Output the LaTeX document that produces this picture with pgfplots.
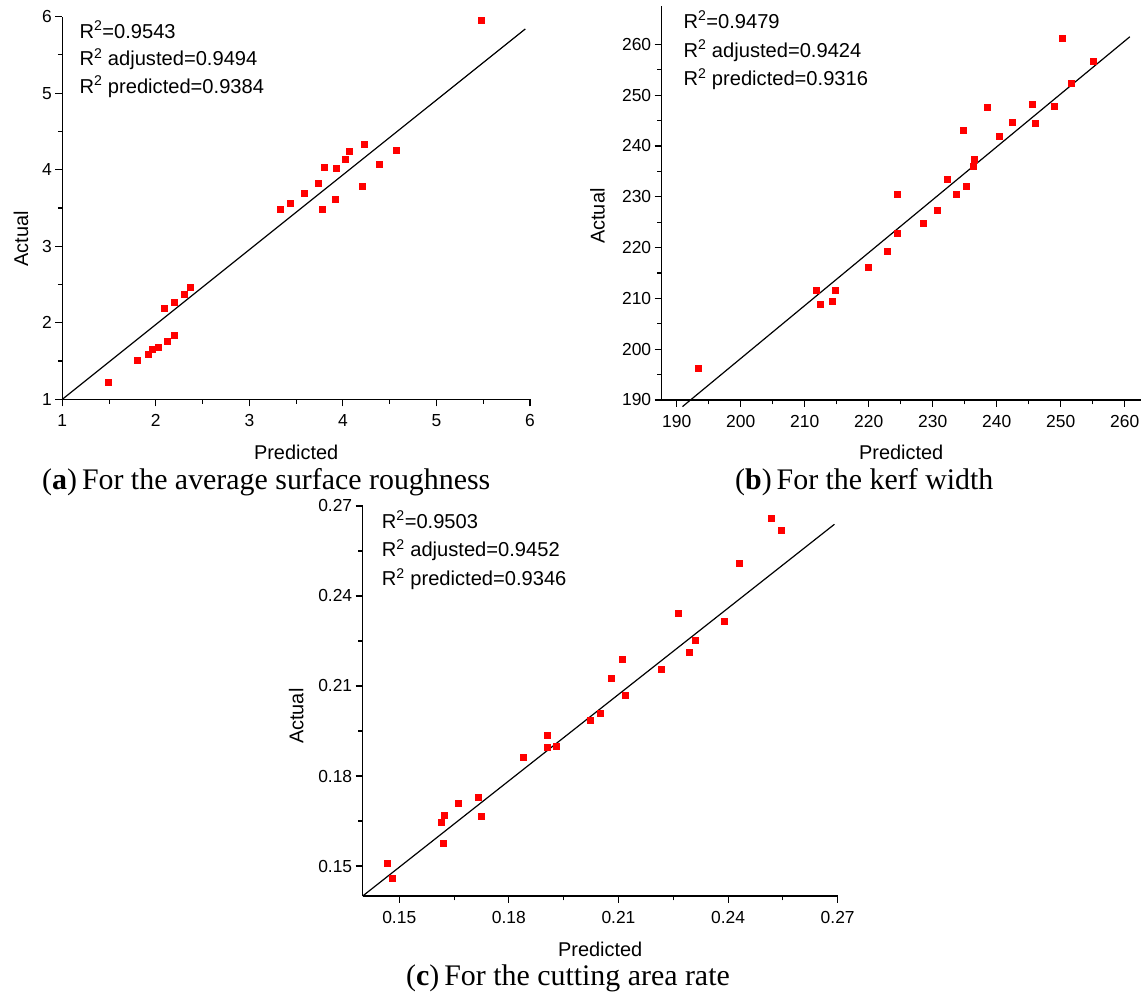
\documentclass[border=0pt]{standalone}
\usepackage{fontspec}
\setmainfont{Liberation Serif}
\setsansfont{Liberation Sans}
\usepackage{pgfplots}
\pgfplotsset{compat=1.18}
\pgfplotsset{
  myax/.style={
    scale only axis, clip=false, enlargelimits=false,
    anchor=south west,
    axis x line=bottom, axis y line=left,
    axis line style={line width=1.2bp, -},
    tick align=outside,
    every tick/.style={line width=1.1bp, black},
    major tick length=7bp, minor tick length=4.5bp,
    minor tick num=1,
    tick label style={font=\sffamily\fontsize{17.5}{17.5}\selectfont},
    every x tick label/.append style={yshift=-5bp},
    /pgf/number format/assume math mode=true,
    every axis x label/.style={at={(axis description cs:0.5,0)}, anchor=base, yshift=-60bp, font=\sffamily\fontsize{20}{20}\selectfont},
  },
  ylab/.style 2 args={every axis y label/.style={at={(axis description cs:#1,#2)}, rotate=90, anchor=center, font=\sffamily\fontsize{20}{20}\selectfont}},
  pts/.style={only marks, mark=square*, mark size=3bp, mark options={fill=red, draw=red, line width=0.2bp}},
  fitline/.style={black, line width=1.2bp, no marks},
}
\newcommand{\rtxt}{\sffamily\fontsize{20.2}{20.2}\selectfont}
\newcommand{\captxt}{\rmfamily\fontsize{30}{30}\selectfont}
\begin{document}
\begin{tikzpicture}
\useasboundingbox (0bp,0bp) rectangle (1142bp,995bp);
% (a)
\begin{axis}[myax, at={(62.3bp,595.7bp)}, width=467.7bp, height=382.6bp,
  xmin=1, xmax=6, ymin=1, ymax=6, xtick={1,2,3,4,5,6}, ytick={1,2,3,4,5,6},
  xlabel={Predicted}, ylabel={Actual}, ylab={-0.0883}{0.419}]
\addplot[pts] coordinates {
(5.475,5.95) (4.23,4.33) (4.07,4.25) (4.02,4.14) (4.57,4.26) (3.80,4.03)
(3.93,4.02) (4.39,4.08) (3.73,3.83) (3.58,3.69) (4.20,3.79) (3.92,3.61)
(3.43,3.56) (3.33,3.48) (3.78,3.48) (1.485,1.22) (1.80,1.51) (1.92,1.59)
(1.96,1.65) (2.02,1.68) (2.12,1.76) (2.20,1.84) (2.09,2.19) (2.19,2.27)
(2.30,2.37) (2.37,2.46)};
\addplot[fitline] coordinates {(1,1) (5.95,5.84)};
\end{axis}
% (b)
\begin{axis}[myax, at={(661.7bp,595bp)}, width=479bp, height=393.7bp,
  xmin=187.65, xmax=262.5, ymin=190, ymax=267.5,
  xtick={190,200,...,260}, ytick={190,200,...,260},
  xlabel={Predicted}, ylabel={Actual}, ylab={-0.134}{0.467}]
\addplot[pts] coordinates {
(250.2,261.2) (255.0,256.7) (251.6,252.3) (249.0,247.9) (245.5,248.3) (246.0,244.6)
(242.4,244.7) (238.5,247.7) (240.3,242.0) (234.7,243.1) (236.4,237.5) (236.3,236.1)
(232.3,233.5) (235.2,232.1) (233.7,230.6) (224.5,230.5) (230.7,227.4) (228.5,224.8)
(224.5,222.9) (222.9,219.4) (219.9,216.2) (211.8,211.7) (214.8,211.7) (214.3,209.4)
(212.4,208.8) (193.3,196.3)};
\addplot[fitline] coordinates {(190.9,188.7) (260.8,261.5)};
\end{axis}
% (c)
\begin{axis}[myax, at={(362.7bp,99bp)}, width=475bp, height=390bp,
  xmin=0.14, xmax=0.27, ymin=0.14, ymax=0.27,
  xtick={0.15,0.18,0.21,0.24,0.27}, ytick={0.15,0.18,0.21,0.24,0.27},
  xticklabel style={/pgf/number format/.cd, fixed, fixed zerofill, precision=2},
  yticklabel style={/pgf/number format/.cd, fixed, fixed zerofill, precision=2},
  xlabel={Predicted}, ylabel={Actual}, ylab={-0.140}{0.461}]
\addplot[pts] coordinates {
(0.2517,0.2659) (0.2545,0.2618) (0.2429,0.2508) (0.2263,0.2342) (0.2389,0.2316)
(0.2310,0.2252) (0.2292,0.2213) (0.2111,0.2189) (0.2216,0.2156) (0.2079,0.2127)
(0.2117,0.2068) (0.2051,0.2009) (0.2022,0.1985) (0.1904,0.1936) (0.1904,0.1897)
(0.1928,0.1900) (0.1838,0.1862) (0.1715,0.1729) (0.1661,0.1710) (0.1624,0.1669)
(0.1725,0.1667) (0.1614,0.1647) (0.1619,0.1575) (0.1467,0.1509) (0.1480,0.1461)};
\addplot[fitline] coordinates {(0.14,0.14) (0.2691,0.2639)};
\end{axis}
% R^2 texts
\node[anchor=base west, inner sep=0] at (79.3bp,956.7bp) {\rtxt R\textsuperscript{2}=0.9543};
\node[anchor=base west, inner sep=0] at (79.3bp,929.3bp) {\rtxt R\textsuperscript{2} adjusted=0.9494};
\node[anchor=base west, inner sep=0] at (79.3bp,901.7bp) {\rtxt R\textsuperscript{2} predicted=0.9384};
\node[anchor=base west, inner sep=0] at (683.3bp,966.7bp) {\rtxt R\textsuperscript{2}=0.9479};
\node[anchor=base west, inner sep=0] at (683.3bp,937.7bp) {\rtxt R\textsuperscript{2} adjusted=0.9424};
\node[anchor=base west, inner sep=0] at (683.3bp,909bp) {\rtxt R\textsuperscript{2} predicted=0.9316};
\node[anchor=base west, inner sep=0] at (381.7bp,466.7bp) {\rtxt R\textsuperscript{2}=0.9503};
\node[anchor=base west, inner sep=0] at (381.7bp,438.3bp) {\rtxt R\textsuperscript{2} adjusted=0.9452};
\node[anchor=base west, inner sep=0] at (381.7bp,409.3bp) {\rtxt R\textsuperscript{2} predicted=0.9346};
% captions
\node[anchor=base west, inner sep=0] at (42bp,505bp) {\captxt(\textbf{a})\,For the average surface roughness};
\node[anchor=base west, inner sep=0] at (735bp,505bp) {\captxt(\textbf{b})\,For the kerf width};
\node[anchor=base, inner sep=0] at (568bp,10bp) {\captxt(\textbf{c})\,For the cutting area rate};
\end{tikzpicture}
\end{document}
